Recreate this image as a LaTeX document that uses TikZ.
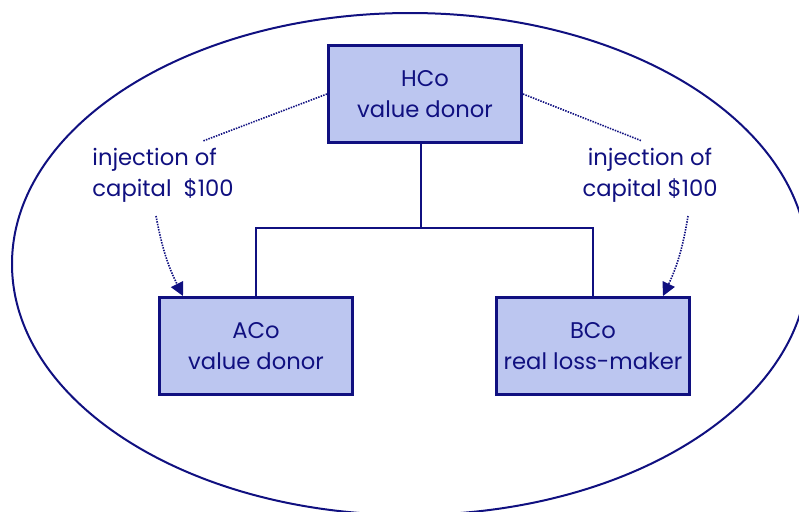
\documentclass[tikz,border=0pt]{standalone}
\usepackage{fontspec}
\setmainfont{Poppins}
\usepackage{tikz}
\usetikzlibrary{calc,positioning,arrows.meta}
\usepackage{xcolor}
\definecolor{navyline}{RGB}{16,16,128}
\definecolor{boxfill}{RGB}{188,198,240}

\tikzset{
  company/.style={draw=navyline, fill=boxfill, line width=2pt, minimum width=145pt,
    minimum height=73pt, align=center, text=navyline, font=\fontsize{17}{23}\selectfont},
  inject/.style={text=navyline, font=\fontsize{17}{23}\selectfont},
  tree/.style={navyline, line width=1.3pt},
  flow/.style={navyline, line width=1.2pt, dash pattern=on 1.1pt off 0.9pt},
}

\begin{document}
\begin{tikzpicture}[x=0.75pt,y=-0.75pt]
\useasboundingbox (0,0) rectangle (799,511);

% Group boundary
\draw[navyline, line width=1.5pt] (410,264) ellipse [x radius=298.5pt, y radius=188.25pt];

% Draw the three companies
\node[company] (hco) at (425,94) {HCo\\value donor};
\node[company] (aco) at (256,346) {ACo\\value donor};
\node[company] (bco) at (593,346) {BCo\\real loss-maker};

% Ownership lines
\coordinate (junc) at (421,228);
\draw[tree] (hco.south -| junc) -- (junc);
\draw[tree] (aco.north) |- (junc) -| (bco.north);

% Capital injections
\node[inject, align=left] (injl) at (163,175) {injection of\\capital\ \ \$100};
\node[inject, align=center] (injr) at (650,175) {injection of\\capital \$100};

\coordinate (ltop) at (203,141);
\coordinate (rtop) at (642,141);
\coordinate (lbot) at (156,216);
\coordinate (rbot) at (688,216);

\draw[flow] (hco.west) -- (ltop);
\draw[flow] (hco.east) -- (rtop);
\draw[flow, -{Triangle[length=10pt,width=10pt]}] (lbot) to[bend right=8] (aco.north -| 183,0);
\draw[flow, -{Triangle[length=10pt,width=10pt]}] (rbot) to[bend left=8] (bco.north -| 663,0);

\end{tikzpicture}
\end{document}
